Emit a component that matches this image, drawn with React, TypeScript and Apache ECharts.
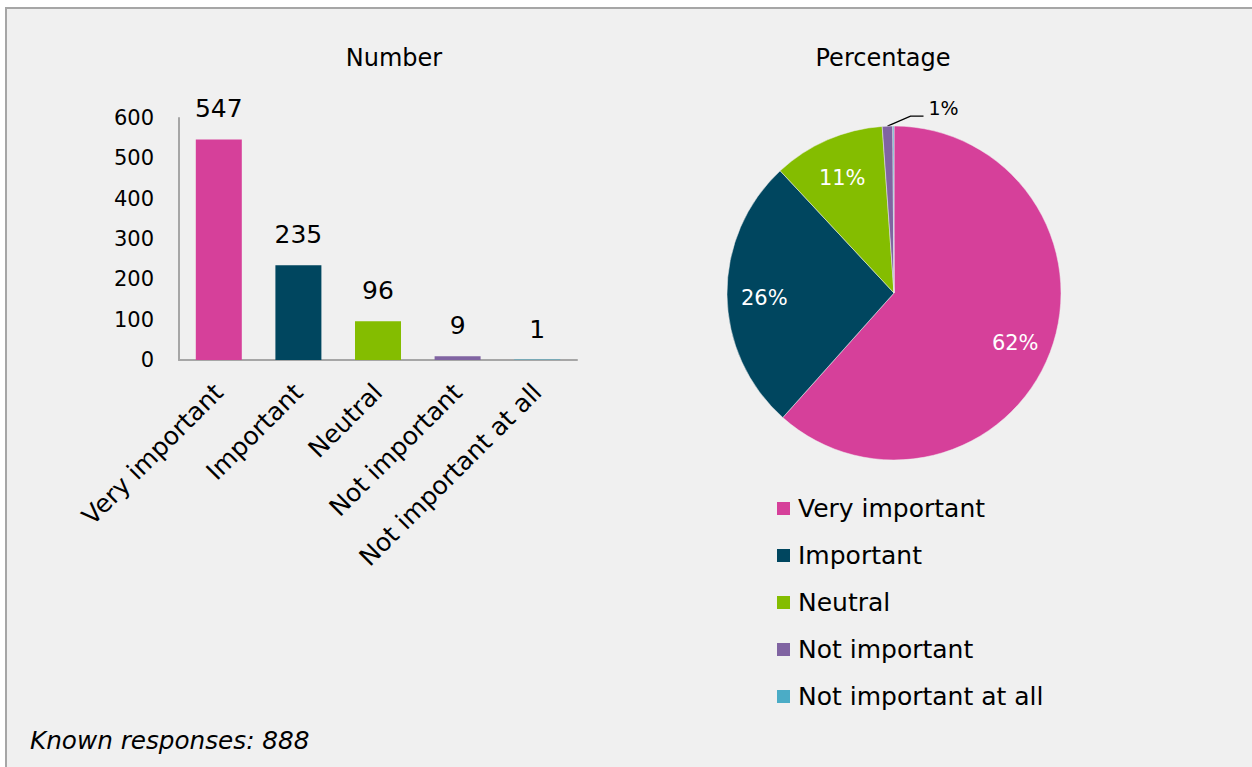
import React, { useEffect, useRef } from "react";
import * as echarts from "echarts";

const categories = ["Very important", "Important", "Neutral", "Not important", "Not important at all"];
const counts = [547, 235, 96, 9, 1];
const colors = ["#D6409A", "#00465F", "#84BD00", "#8064A2", "#4BACC6"];
const yMin = 0;
const yMax = 600;
const yInterval = 100;
const barTitle = "Number";
const pieTitle = "Percentage";
const footnote = "Known responses: 888";

const FONT = "DejaVu Sans";
const PIE_CX = 894;
const PIE_CY = 293;
const PIE_R = 167;

export default function App() {
  const ref = useRef<HTMLDivElement>(null);

  useEffect(() => {
    if (!ref.current) return;
    const chart = echarts.init(ref.current, null, { renderer: "svg" });

    const barData = counts.map((v, i) => ({ value: v, itemStyle: { color: colors[i] } }));
    const pieData = counts.map((v, i) => {
      const base: any = { name: categories[i], value: v, itemStyle: { color: colors[i] } };
      if (i === 3) {
        base.label = { position: "outside", color: "#000", fontSize: 19 };
        base.labelLine = { show: true, lineStyle: { color: "#000", width: 1.3 } };
      } else if (i === 4) {
        base.label = { show: false };
        base.labelLine = { show: false };
      }
      return base;
    });

    const option: any = {
      animation: false,
      backgroundColor: "transparent",
      textStyle: { fontFamily: FONT },
      graphic: [
        { type: "text", x: 394, y: 58, style: { text: barTitle, fontFamily: FONT, fontSize: 24, fill: "#000", textAlign: "center", textVerticalAlign: "middle" } },
        { type: "text", x: 883, y: 58, style: { text: pieTitle, fontFamily: FONT, fontSize: 24, fill: "#000", textAlign: "center", textVerticalAlign: "middle" } },
        { type: "text", x: 30, y: 740, style: { text: footnote, fontFamily: FONT, fontSize: 24.7, fontStyle: "italic", fontWeight: "normal", fill: "#000", textAlign: "left", textVerticalAlign: "middle" } },
      ],
      legend: {
        orient: "vertical",
        left: 770,
        top: 491,
        itemWidth: 15,
        itemHeight: 15,
        itemGap: 22,
        icon: "rect",
        data: categories,
        textStyle: { fontFamily: FONT, fontSize: 25, color: "#000", lineHeight: 25, padding: [0, 0, 0, 2] },
        selectedMode: false,
      },
      grid: { left: 179, right: 1252 - 577, top: 118, bottom: 767 - 360, containLabel: false },
      xAxis: {
        type: "category",
        data: categories,
        axisLine: { show: true, lineStyle: { color: "#a6a6a6", width: 2 } },
        axisTick: { show: false },
        axisLabel: { interval: 0, rotate: 45, fontSize: 25, color: "#000", margin: 28, fontFamily: FONT },
      },
      yAxis: {
        type: "value",
        min: yMin,
        max: yMax,
        interval: yInterval,
        axisLine: { show: true, lineStyle: { color: "#a6a6a6", width: 2 } },
        axisTick: { show: false },
        splitLine: { show: false },
        axisLabel: { fontSize: 21, color: "#000", margin: 25, fontFamily: FONT },
      },
      series: [
        {
          type: "bar",
          name: barTitle,
          data: barData,
          barWidth: 46,
          label: { show: true, position: "top", fontSize: 25, color: "#000", distance: 18, fontFamily: FONT },
        },
        {
          type: "pie",
          name: pieTitle,
          center: [PIE_CX, PIE_CY],
          radius: PIE_R,
          startAngle: 90,
          clockwise: true,
          avoidLabelOverlap: false,
          data: pieData,
          itemStyle: { borderColor: "#f0f0f0", borderWidth: 0.5 },
          label: {
            show: true,
            position: "inside",
            formatter: "{d}%",
            color: "#fff",
            fontSize: 21,
            fontFamily: FONT,
          },
          labelLine: { show: false },
          percentPrecision: 0,
          labelLayout: (p: any) => {
            if (p.seriesIndex !== 1) return {};
            if (p.dataIndex === 3) {
              const pts = p.labelLinePoints;
              const p0 = pts && pts[0] ? pts[0] : [p.rect.x + p.rect.width / 2, p.rect.y];
              const p1 = [p0[0] + 23, p0[1] - 10];
              const p2 = [p1[0] + 13, p1[1]];
              return {
                x: p2[0] + 5,
                y: p2[1] - 8,
                align: "left",
                verticalAlign: "middle",
                labelLinePoints: [p0, p1, p2],
              };
            }
            const r = p.labelRect;
            const lx = r.x + r.width / 2;
            const ly = r.y + r.height / 2;
            return { dx: (lx - PIE_CX) * 0.5, dy: (ly - PIE_CY) * 0.5 + 4 };
          },
        },
      ],
    };

    chart.setOption(option);
    return () => chart.dispose();
  }, []);

  return (
    <div style={{ position: "fixed", left: 0, top: 0, width: 1252, height: 767, overflow: "hidden", background: "#fff" }}>
      <div
        style={{
          position: "absolute",
          left: 5,
          top: 7,
          width: 1300,
          height: 800,
          border: "2px solid #a6a6a6",
          background: "#f0f0f0",
          boxSizing: "border-box",
        }}
      />
      <div ref={ref} style={{ position: "absolute", left: 0, top: 0, width: 1252, height: 767 }} />
    </div>
  );
}
